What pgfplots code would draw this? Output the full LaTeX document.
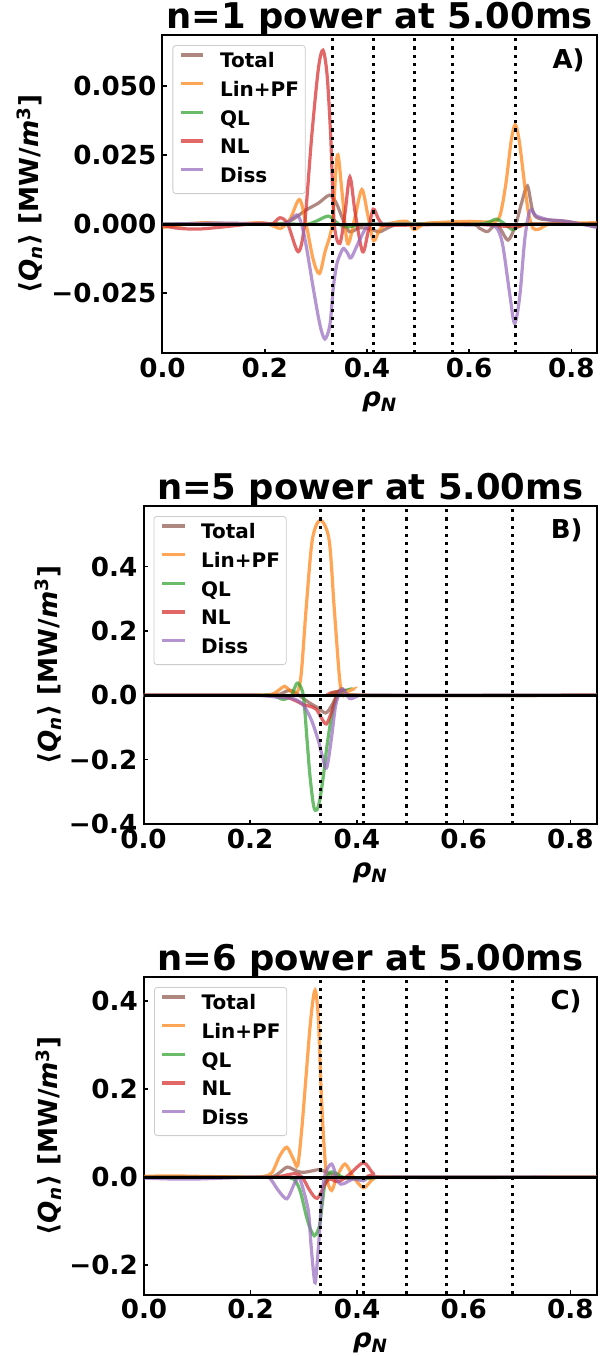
\documentclass[border=0pt]{standalone}
\usepackage{fontspec}
\setmainfont{DejaVu Sans}
\usepackage{pgfplots}
\pgfplotsset{compat=1.18}
\definecolor{cTot}{HTML}{8C564B}
\definecolor{cLin}{HTML}{FF7F0E}
\definecolor{cQL}{HTML}{2CA02C}
\definecolor{cNL}{HTML}{D62728}
\definecolor{cDis}{HTML}{9467BD}
\tikzset{lab/.style={anchor=base east, inner sep=0pt, font=\fontsize{13}{15}\selectfont\bfseries}}
\pgfplotsset{
 pan/.style={
  scale only axis, xmin=0, xmax=0.85,
  scaled y ticks=false, scaled x ticks=false,
  axis line style={line width=1pt},
  every tick/.style={black, line width=0.8pt},
  major tick length=2.2pt, tick align=inside,
  xtick pos=bottom, ytick pos=left,
  xtick={0,0.2,0.4,0.6,0.8}, xticklabels={0.0,0.2,0.4,0.6,0.8},
  ticklabel style={font=\fontsize{13.1}{15}\selectfont\bfseries},
  xticklabel style={anchor=base, yshift=-12pt, inner sep=0pt},
  yticklabel style={anchor=east, inner sep=0pt, xshift=-2.9pt},
  every axis title shift=0pt,
  title style={font=\fontsize{17.7}{20}\selectfont\bfseries, anchor=base, at={(0.5,1)}, yshift=3.5pt, inner sep=0pt},
  xlabel={\textit{ρ}\textsubscript{\textit{N}}},
  every axis x label/.style={at={(axis description cs:0.5,0)}, anchor=base, yshift=-26.5pt, inner sep=0pt, font=\fontsize{13.1}{15}\selectfont\bfseries},
  ylabel={⟨\textit{Q}\textsubscript{\textit{n}}⟩ [MW/\textit{m}\textsuperscript{3}]},
  every axis y label/.style={at={(axis description cs:0,0.5)}, rotate=90, anchor=south, inner sep=0pt, font=\fontsize{13.1}{15}\selectfont\bfseries},
  legend cell align=left,
  legend image code/.code={\draw[#1, line width=1.6pt] (0pt,3.6pt) -- (11.35pt,3.6pt);},
  legend style={at={(0,1)}, anchor=north west, xshift=5pt, yshift=-5pt,
    draw=black!20, rounded corners=1.5pt, fill=white, fill opacity=0.8, text opacity=1,
    inner xsep=3.15pt, inner ysep=3.7pt, row sep=5.05pt,
    font=\fontsize{10}{12}\selectfont\bfseries,
    nodes={inner sep=0pt, text height=7.5pt, text depth=1.8pt},
    /tikz/every odd column/.append style={column sep=7.5pt}},
  every axis plot/.append style={line width=1.6pt, opacity=0.7, smooth},
 },
 zl/.style={black, line width=1.5pt, opacity=1, sharp plot, forget plot},
 dl/.style={black, line width=1.5pt, opacity=1, sharp plot, forget plot, dash pattern=on 1.6pt off 2.5pt},
}
\begin{document}
\begin{tikzpicture}
\useasboundingbox (0,0) rectangle (304pt,-678pt);
% ---------------- A ----------------
\begin{axis}[pan, at={(81.25pt,-176.5pt)}, anchor=south west, width=217.25pt, height=159pt,
  ymin=-0.0467, ymax=0.0685,
  ytick={-0.025,0,0.025,0.05}, yticklabels={−0.025,0.000,0.025,0.050},
  title={n=1 power at 5.00ms}, ylabel style={yshift=59.75pt}]
\addplot[cTot] coordinates {(0,0) (0.1,0.0003) (0.2,0.0002) (0.235,0.0002) (0.255,0.0017) (0.28,0.005) (0.305,0.0076) (0.327,0.0105) (0.34,0.0076) (0.353,0.0017) (0.366,-0.0028) (0.386,-0.0013) (0.41,-0.002) (0.425,-0.0028) (0.445,-0.001) (0.47,0) (0.6,0) (0.62,-0.0015) (0.636,-0.0027) (0.652,0) (0.662,-0.002) (0.676,-0.0058) (0.69,-0.0008) (0.703,0.008) (0.714,0.0138) (0.724,0.005) (0.737,0.002) (0.79,0.001) (0.85,-0.001)};
\addplot[cLin] coordinates {(0,-0.0012) (0.03,-0.0005) (0.08,0.0005) (0.14,0) (0.19,0.0005) (0.215,-0.0005) (0.232,-0.0015) (0.25,0.002) (0.268,0.0089) (0.281,0) (0.295,-0.013) (0.307,-0.0179) (0.318,-0.01) (0.332,0) (0.342,0.025) (0.351,0.012) (0.362,-0.007) (0.376,0.002) (0.390,0.0125) (0.402,0.003) (0.413,-0.006) (0.425,-0.002) (0.44,0) (0.478,0.001) (0.492,-0.002) (0.51,0) (0.53,0.0005) (0.60,0.001) (0.645,0.0008) (0.66,0.003) (0.672,0.015) (0.682,0.030) (0.690,0.036) (0.698,0.030) (0.708,0.015) (0.716,0.004) (0.725,-0.0015) (0.737,-0.0018) (0.76,0) (0.85,0.0005)};
\addplot[cQL] coordinates {(0,0) (0.2,0) (0.26,0) (0.28,-0.0003) (0.30,0.001) (0.324,0.0029) (0.338,0.001) (0.345,0) (0.358,-0.001) (0.38,-0.0005) (0.40,0) (0.6,0) (0.635,0.0005) (0.653,0.0018) (0.670,0) (0.685,-0.002) (0.70,-0.0005) (0.72,0) (0.85,0)};
\addplot[cNL] coordinates {(0,-0.0005) (0.03,-0.0015) (0.07,-0.0018) (0.12,-0.001) (0.17,0) (0.2,0.0003) (0.215,0) (0.23,0.0023) (0.245,0) (0.2655,-0.010) (0.278,0) (0.292,0.032) (0.305,0.0564) (0.314,0.063) (0.322,0.054) (0.329,0.032) (0.336,0) (0.347,-0.007) (0.357,0.004) (0.3666,0.0171) (0.377,0.004) (0.3914,-0.010) (0.402,-0.003) (0.412,0.0054) (0.422,0.002) (0.43,0) (0.44,-0.0005) (0.6,0) (0.69,-0.001) (0.72,0) (0.85,0)};
\addplot[cDis] coordinates {(0,0) (0.1,0.0003) (0.2,0) (0.24,0) (0.262,0.0033) (0.272,0) (0.282,-0.0088) (0.295,-0.0233) (0.308,-0.0365) (0.3177,-0.0416) (0.3275,-0.0365) (0.334,-0.0233) (0.3405,-0.0149) (0.347,-0.0112) (0.354,-0.0088) (0.362,-0.0105) (0.369,-0.0122) (0.385,-0.006) (0.40,-0.001) (0.42,0) (0.60,-0.0003) (0.62,0) (0.645,-0.0004) (0.656,-0.002) (0.666,-0.008) (0.680,-0.0263) (0.689,-0.036) (0.699,-0.026) (0.709,-0.005) (0.719,0.005) (0.731,0.003) (0.757,0.0015) (0.79,0.001) (0.85,-0.0012)};
\legend{Total,Lin+PF,QL,NL,Diss}
\addplot[zl] coordinates {(0,0) (0.85,0)};
\addplot[dl] coordinates {(0.332,-0.0467) (0.332,0.0685)};
\addplot[dl] coordinates {(0.412,-0.0467) (0.412,0.0685)};
\addplot[dl] coordinates {(0.493,-0.0467) (0.493,0.0685)};
\addplot[dl] coordinates {(0.567,-0.0467) (0.567,0.0685)};
\addplot[dl] coordinates {(0.691,-0.0467) (0.691,0.0685)};
\node[lab] at (rel axis cs:1,1) [xshift=-6pt, yshift=-16.6pt] {A)};
\end{axis}
% ---------------- B ----------------
\begin{axis}[pan, at={(71.75pt,-412pt)}, anchor=south west, width=226.75pt, height=159pt,
  ymin=-0.4, ymax=0.588,
  ytick={-0.4,-0.2,0,0.2,0.4}, yticklabels={−0.4,−0.2,0.0,0.2,0.4},
  title={n=5 power at 5.00ms}, ylabel style={yshift=40.9pt}]
\addplot[cTot] coordinates {(0,0) (0.2,0) (0.25,0.002) (0.262,0.008) (0.274,0.016) (0.285,0.008) (0.293,-0.002) (0.3115,-0.024) (0.327,-0.039) (0.3415,-0.055) (0.352,-0.034) (0.36,-0.008) (0.365,0.008) (0.371,0.021) (0.38,0.005) (0.39,0) (0.85,0)};
\addplot[cLin] coordinates {(0,0) (0.2,0) (0.24,0.003) (0.255,0.018) (0.2645,0.028) (0.272,0.018) (0.28,0.007) (0.289,0.012) (0.2958,0.069) (0.3052,0.277) (0.3165,0.484) (0.3315,0.544) (0.3478,0.484) (0.3572,0.277) (0.3666,0.069) (0.3722,0) (0.382,0.012) (0.393,0.019) (0.41,0) (0.85,0)};
\addplot[cQL] coordinates {(0,0) (0.2,0) (0.242,0) (0.2613,-0.013) (0.277,-0.002) (0.283,0.022) (0.2895,0.038) (0.2995,0) (0.3065,-0.138) (0.312,-0.25) (0.319,-0.345) (0.325,-0.356) (0.331,-0.32) (0.3378,-0.242) (0.343,-0.169) (0.35,-0.09) (0.357,-0.034) (0.3634,0) (0.372,0.013) (0.385,0) (0.85,0)};
\addplot[cNL] coordinates {(0,0) (0.2,0) (0.26,-0.003) (0.2865,-0.018) (0.299,-0.029) (0.3115,-0.034) (0.324,-0.044) (0.335,-0.075) (0.343,-0.089) (0.352,-0.054) (0.3615,-0.007) (0.37,0.013) (0.38,0) (0.85,0)};
\addplot[cDis] coordinates {(0,0) (0.2,0) (0.256,-0.007) (0.28,-0.01) (0.299,-0.029) (0.3145,-0.076) (0.327,-0.137) (0.3335,-0.178) (0.343,-0.226) (0.352,-0.137) (0.36,-0.033) (0.368,0.008) (0.374,0.019) (0.3865,-0.01) (0.399,-0.004) (0.41,0) (0.85,0)};
\legend{Total,Lin+PF,QL,NL,Diss}
\addplot[zl] coordinates {(0,0) (0.85,0)};
\addplot[dl] coordinates {(0.332,-0.4) (0.332,0.588)};
\addplot[dl] coordinates {(0.412,-0.4) (0.412,0.588)};
\addplot[dl] coordinates {(0.493,-0.4) (0.493,0.588)};
\addplot[dl] coordinates {(0.567,-0.4) (0.567,0.588)};
\addplot[dl] coordinates {(0.691,-0.4) (0.691,0.588)};
\node[lab] at (rel axis cs:1,1) [xshift=-7pt, yshift=-16.2pt] {B)};
\end{axis}
% ---------------- C ----------------
\begin{axis}[pan, at={(72pt,-647.25pt)}, anchor=south west, width=226.5pt, height=158.75pt,
  ymin=-0.2666, ymax=0.455,
  ytick={-0.2,0,0.2,0.4}, yticklabels={−0.2,0.0,0.2,0.4},
  title={n=6 power at 5.00ms}, ylabel style={yshift=40.9pt}]
\addplot[cTot] coordinates {(0,0) (0.2,0) (0.24,0.001) (0.255,0.011) (0.269,0.023) (0.2865,0.014) (0.299,0.011) (0.318,0.015) (0.330,0.017) (0.349,0.008) (0.368,0) (0.39,-0.003) (0.42,-0.002) (0.45,0) (0.85,0)};
\addplot[cLin] coordinates {(0,0.002) (0.05,0.003) (0.1,0.002) (0.15,0.001) (0.2,0) (0.225,0.002) (0.24,0.01) (0.255,0.049) (0.268,0.068) (0.28,0.042) (0.2883,0.0265) (0.2958,0.106) (0.3039,0.227) (0.3115,0.341) (0.3178,0.409) (0.322,0.423) (0.327,0.364) (0.3314,0.227) (0.3365,0.098) (0.3428,0) (0.352,-0.030) (0.3617,0) (0.377,0.030) (0.393,0) (0.412,-0.024) (0.43,-0.004) (0.45,0) (0.85,0)};
\addplot[cQL] coordinates {(0,0) (0.2,0) (0.26,0) (0.2805,-0.004) (0.2927,-0.03) (0.3052,-0.091) (0.3133,-0.121) (0.3195,-0.133) (0.325,-0.125) (0.330,-0.106) (0.3346,-0.06) (0.3397,-0.015) (0.349,0.011) (0.3617,0.008) (0.374,0) (0.41,-0.003) (0.44,0) (0.85,0)};
\addplot[cNL] coordinates {(0,0) (0.2,0) (0.24,0) (0.26,0.003) (0.283,0.008) (0.297,0) (0.311,-0.03) (0.325,-0.048) (0.34,-0.015) (0.349,-0.004) (0.365,-0.01) (0.387,0.008) (0.412,0.033) (0.4305,0.008) (0.45,0) (0.85,0)};
\addplot[cDis] coordinates {(0,-0.002) (0.05,-0.004) (0.1,-0.004) (0.15,-0.002) (0.2,0) (0.224,0) (0.236,-0.002) (0.252,-0.03) (0.268,-0.049) (0.2805,-0.019) (0.2896,0) (0.2958,-0.015) (0.3083,-0.076) (0.3133,-0.152) (0.319,-0.227) (0.322,-0.235) (0.3277,-0.152) (0.332,-0.076) (0.3384,0) (0.352,0.030) (0.3647,-0.011) (0.374,-0.015) (0.393,-0.004) (0.412,-0.008) (0.44,0) (0.85,0)};
\legend{Total,Lin+PF,QL,NL,Diss}
\addplot[zl] coordinates {(0,0) (0.85,0)};
\addplot[dl] coordinates {(0.332,-0.2666) (0.332,0.455)};
\addplot[dl] coordinates {(0.412,-0.2666) (0.412,0.455)};
\addplot[dl] coordinates {(0.493,-0.2666) (0.493,0.455)};
\addplot[dl] coordinates {(0.567,-0.2666) (0.567,0.455)};
\addplot[dl] coordinates {(0.691,-0.2666) (0.691,0.455)};
\node[lab] at (rel axis cs:1,1) [xshift=-7.5pt, yshift=-16.2pt] {C)};
\end{axis}
\end{tikzpicture}
\end{document}
